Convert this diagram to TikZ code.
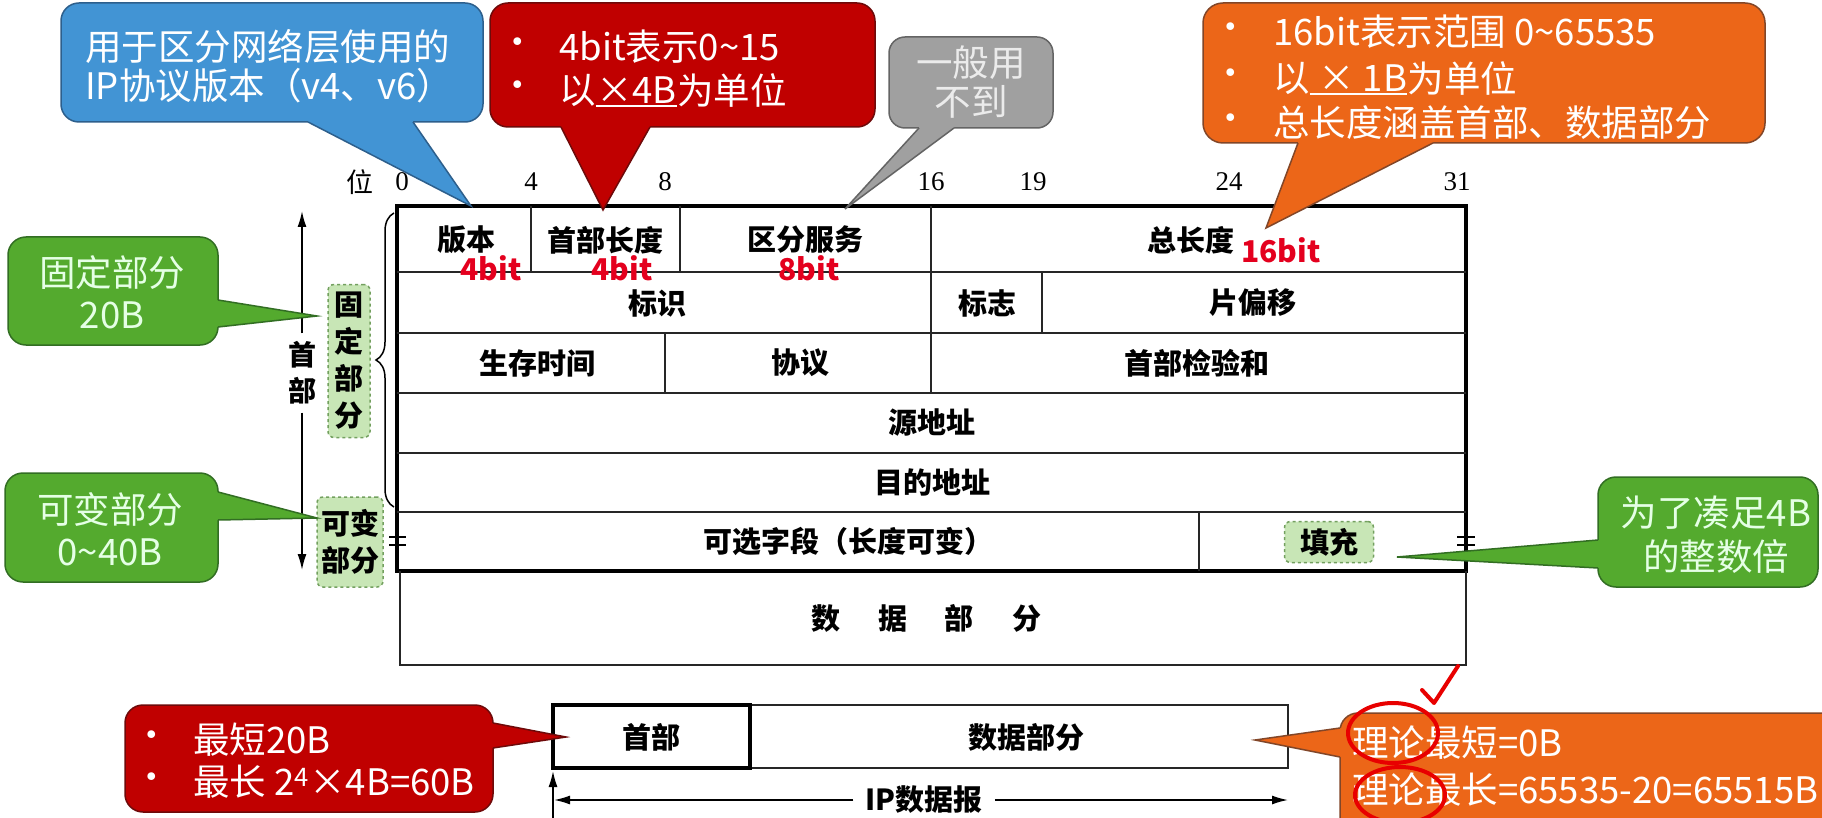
\documentclass[tikz,border=0pt]{standalone}
\usepackage{fontspec}
\setmainfont{Liberation Serif}
\newfontfamily\cjk{Noto Sans CJK SC}
\usetikzlibrary{arrows.meta,decorations.pathreplacing}
\definecolor{cblue}{RGB}{66,148,212}
\definecolor{cblueD}{RGB}{45,95,140}
\definecolor{cred}{RGB}{192,0,0}
\definecolor{credD}{RGB}{110,10,10}
\definecolor{cgray}{RGB}{160,160,160}
\definecolor{cgrayD}{RGB}{100,100,100}
\definecolor{corange}{RGB}{236,102,24}
\definecolor{corangeD}{RGB}{130,70,40}
\definecolor{cgreen}{RGB}{84,170,46}
\definecolor{cgreenD}{RGB}{50,110,35}
\definecolor{lgreen}{RGB}{200,230,182}
\definecolor{dgreen}{RGB}{115,160,95}
\definecolor{bitred}{RGB}{228,0,30}
\definecolor{handred}{RGB}{232,0,0}
\tikzset{
  ctext/.style={font=\cjk\fontsize{36.5}{39}\selectfont, text=white, inner sep=0},
  ttext/.style={font=\cjk\bfseries\fontsize{29}{32}\selectfont, inner sep=0},
  bitnum/.style={font=\fontsize{27}{29}\selectfont, inner sep=0},
  redbit/.style={font=\cjk\bfseries\fontsize{30}{33}\selectfont, text=bitred, inner sep=0},
  outer/.style={line width=3.2, black},
  inner/.style={line width=2.2, black!85},
  dashbox/.style={fill=lgreen, draw=dgreen, dashed, line width=1.5, rounded corners=6},
  balloon/.style={line width=1.5, rounded corners=18},
  tip/.style={line width=1.5, line join=miter},
  hand/.style={draw=handred, line width=4, line cap=round, line join=round},
}
\begin{document}
\begin{tikzpicture}[x=1pt,y=-1pt]
\useasboundingbox (0,0) rectangle (1822,818);
\fill[white] (0,0) rectangle (1822,818);

% ---------------- header table ----------------
\draw[outer] (397,206) rectangle (1466,571);
\foreach \yy in {272,333,393,453,512} \draw[inner] (397,\yy) -- (1466,\yy);
\draw[inner] (531,206) -- (531,272);
\draw[inner] (680,206) -- (680,272);
\draw[inner] (931,206) -- (931,393);
\draw[inner] (1042,272) -- (1042,333);
\draw[inner] (665,333) -- (665,393);
\draw[inner] (1199,512) -- (1199,571);
% data part
\draw[inner] (400,571) -- (400,665) -- (1466,665) -- (1466,571);
% break marks
\draw[line width=1.6] (389,537) -- (406,537) (389,545) -- (406,545);
\draw[line width=1.6] (1457,537) -- (1475,537) (1457,545) -- (1475,545);

% bit numbers
\node[font=\cjk\fontsize{27}{29}\selectfont, inner sep=0] (wei) at (360,182) {位};
\node[bitnum] (b0) at (402,182) {0};
\node[bitnum] (b4) at (531,182) {4};
\node[bitnum] (b8) at (665,182) {8};
\node[bitnum] (b16) at (931,182) {16};
\node[bitnum] (b19) at (1033,182) {19};
\node[bitnum] (b24) at (1229,182) {24};
\node[bitnum] (b31) at (1457,182) {31};

% field texts
\node[ttext] (ver) at (466,240) {版本};
\node[ttext] (ihl) at (605,240) {首部长度};
\node[ttext] (tos) at (805,240) {区分服务};
\node[ttext] (tot) at (1191,240) {总长度};
\node[ttext] (idf) at (657,303) {标识};
\node[ttext] (flg) at (987,303) {标志};
\node[ttext] (off) at (1253,303) {片偏移};
\node[ttext] (ttl) at (537,363) {生存时间};
\node[ttext] (pro) at (800,363) {协议};
\node[ttext] (chk) at (1197,363) {首部检验和};
\node[ttext] (src) at (932,423) {源地址};
\node[ttext] (dst) at (932,482) {目的地址};
\node[ttext] (opt) at (848,541) {可选字段（长度可变）};
\node[dashbox, minimum width=89, minimum height=41] (padbox) at (1329,542) {};
\node[ttext] (pad) at (1329,542) {填充};
\node[ttext] (data) at (926,618) {数\hspace{38pt}据\hspace{38pt}部\hspace{38pt}分};

% red bit sizes
\node[redbit] (r1) at (491,268) {4bit};
\node[redbit] (r2) at (622,268) {4bit};
\node[redbit] (r3) at (809,268) {8bit};
\node[redbit] (r4) at (1281,250) {16bit};

% ---------------- left side ----------------
\node[font=\cjk\bfseries\fontsize{28}{30}\selectfont, inner sep=0] (shou) at (302,355) {首};
\node[font=\cjk\bfseries\fontsize{28}{30}\selectfont, inner sep=0] (bu) at (302,391) {部};
\draw[line width=1.6, -{Latex[length=16,width=9]}] (shou.north) ++(0,-8) -- (302,211);
\draw[line width=1.6, -{Latex[length=16,width=9]}] (bu.south) ++(0,8) -- (302,570);
\draw[line width=1.5, decorate, decoration={brace, amplitude=18}] (394,507) -- (394,213);
\node[dashbox, minimum width=42, minimum height=153] (fixbox) at (349,361) {};
\node[font=\cjk\bfseries\fontsize{29}{37}\selectfont, inner sep=0, align=center] (fix) at (349,361) {固\\定\\部\\分};
\node[dashbox, minimum width=66, minimum height=90] (varbox) at (350,542) {};
\node[font=\cjk\bfseries\fontsize{29}{37}\selectfont, inner sep=0, align=center] (var) at (350,542) {可变\\部分};

% ---------------- callouts ----------------
% blue
\filldraw[balloon, fill=cblue, draw=cblueD] (61,3) rectangle (483,122);
\fill[cblue] (308,116) -- (308,122) -- (471,206) -- (413,122) -- (413,116) -- cycle;
\draw[tip, cblueD] (308,122) -- (471,206) -- (413,122);
\node[ctext, anchor=west] (bl1) at (85,47) {用于区分网络层使用的};
\node[ctext, anchor=west] (bl2) at (85,86) {IP协议版本（v4、v6）};

% red top
\filldraw[balloon, fill=cred, draw=credD] (490,3) rectangle (875,127);
\fill[cred] (561,121) -- (561,127) -- (603,210) -- (650,127) -- (650,121) -- cycle;
\draw[tip, credD] (561,127) -- (603,210) -- (650,127);
\node[ctext] (rb1) at (518,47) {•};
\node[ctext] (rb2) at (518,90) {•};
\node[ctext, anchor=west] (rt1) at (559,47) {4bit表示0\textasciitilde15};
\node[ctext, anchor=west] (rt2a) at (559,90) {以};
\node[ctext, anchor=west] (rt2b) at (rt2a.east) {×4B};
\node[ctext, anchor=west] (rt2c) at (rt2b.east) {为单位};
\draw[white, line width=2] ([yshift=-2]rt2b.south west) -- ([yshift=-2]rt2b.south east);

% gray
\filldraw[balloon, rounded corners=16, fill=cgray, draw=cgrayD] (889,37) rectangle (1053,128);
\fill[cgray] (919,122) -- (919,128) -- (845,209) -- (954,128) -- (954,122) -- cycle;
\draw[tip, cgrayD] (919,128) -- (845,209) -- (954,128);
\node[ctext, text=white!92!black] (gy1) at (971,63) {一般用};
\node[ctext, text=white!92!black] (gy2) at (971,102) {不到};

% orange top
\filldraw[balloon, rounded corners=20, fill=corange, draw=corangeD] (1203,3) rectangle (1765,143);
\fill[corange] (1298,137) -- (1298,143) -- (1266,228) -- (1433,143) -- (1433,137) -- cycle;
\draw[tip, corangeD] (1298,143) -- (1266,228) -- (1433,143);
\node[ctext] (ob1) at (1231,32) {•};
\node[ctext] (ob2) at (1231,78) {•};
\node[ctext] (ob3) at (1231,123) {•};
\node[ctext, anchor=west] (ot1) at (1273,32) {16bit表示范围 0\textasciitilde65535};
\node[ctext, anchor=west] (ot2a) at (1273,78) {以};
\node[ctext, anchor=west] (ot2b) at (ot2a.east) {\ × 1B\ };
\node[ctext, anchor=west] (ot2c) at (ot2b.east) {为单位};
\draw[white, line width=2] ([yshift=-2]ot2b.south west) -- ([yshift=-2]ot2b.south east);
\node[ctext, anchor=west] (ot3) at (1273,123) {总长度涵盖首部、数据部分};

% green: fixed part
\filldraw[balloon, fill=cgreen, draw=cgreenD] (8,237) rectangle (218,345);
\fill[cgreen] (212,300) -- (218,300) -- (317,316) -- (218,327) -- (212,327) -- cycle;
\draw[tip, cgreenD] (218,300) -- (317,316) -- (218,327);
\node[ctext, text=white!90!green] (g1a) at (112,273) {固定部分};
\node[ctext, text=white!90!green] (g1b) at (112,315) {20B};

% green: variable part
\filldraw[balloon, fill=cgreen, draw=cgreenD] (5,473) rectangle (218,582);
\fill[cgreen] (212,492) -- (218,492) -- (317,518) -- (218,520) -- (212,520) -- cycle;
\draw[tip, cgreenD] (218,492) -- (317,518) -- (218,520);
\node[ctext, text=white!90!green] (g2a) at (110,510) {可变部分};
\node[ctext, text=white!90!green] (g2b) at (110,552) {0\textasciitilde40B};

% green: padding
\filldraw[balloon, fill=cgreen, draw=cgreenD] (1598,477) rectangle (1818,587);
\fill[cgreen] (1604,540) -- (1598,540) -- (1397,557) -- (1598,568) -- (1604,568) -- cycle;
\draw[tip, cgreenD] (1598,540) -- (1397,557) -- (1598,568);
\node[ctext, text=white!90!green] (g3a) at (1716,513) {为了凑足4B};
\node[ctext, text=white!90!green] (g3b) at (1716,557) {的整数倍};

% ---------------- IP datagram ----------------
\draw[inner] (750,705) rectangle (1288,768);
\draw[outer] (553,705) rectangle (750,768);
\node[ttext] (hdr) at (651,737) {首部};
\node[ttext] (pay) at (1026,737) {数据部分};
\node[ttext] (ipd) at (924,800) {IP数据报};
\draw[line width=1.6, -{Latex[length=16,width=9]}] (ipd.west) ++(-12,0) -- (554,800);
\draw[line width=1.6, -{Latex[length=16,width=9]}] (ipd.east) ++(12,0) -- (1288,800);
\draw[line width=1.6, -{Latex[length=16,width=9]}] (553,818) -- (553,771);

% red bottom
\filldraw[balloon, fill=cred, draw=credD] (125,705) rectangle (493,812);
\fill[cred] (487,723) -- (493,723) -- (566,737) -- (493,748) -- (487,748) -- cycle;
\draw[tip, credD] (493,723) -- (566,737) -- (493,748);
\node[ctext] (bb1) at (152,740) {•};
\node[ctext] (bb2) at (152,782) {•};
\node[ctext, anchor=west] (bt1) at (193,740) {最短20B};
\node[ctext, anchor=west] (bt2) at (193,782) {最长 2\textsuperscript{4}×4B=60B};

% orange bottom
\filldraw[balloon, fill=corange, draw=corangeD] (1340,713) rectangle (1850,850);
\fill[corange] (1346,728) -- (1340,728) -- (1255,740) -- (1340,757) -- (1346,757) -- cycle;
\draw[tip, corangeD] (1340,728) -- (1255,740) -- (1340,757);
\node[ctext, anchor=west] (ob4) at (1352,743) {理论最短=0B};
\node[ctext, anchor=west] (ob5) at (1352,790) {理论最长=65535-20=65515B};

% hand marks
\draw[hand] (1422,690) -- (1434,703) -- (1458,666);
\draw[hand] (1393,733) ellipse (45 and 30);
\draw[hand] (1400,795) ellipse (45 and 28);
\end{tikzpicture}
\end{document}
